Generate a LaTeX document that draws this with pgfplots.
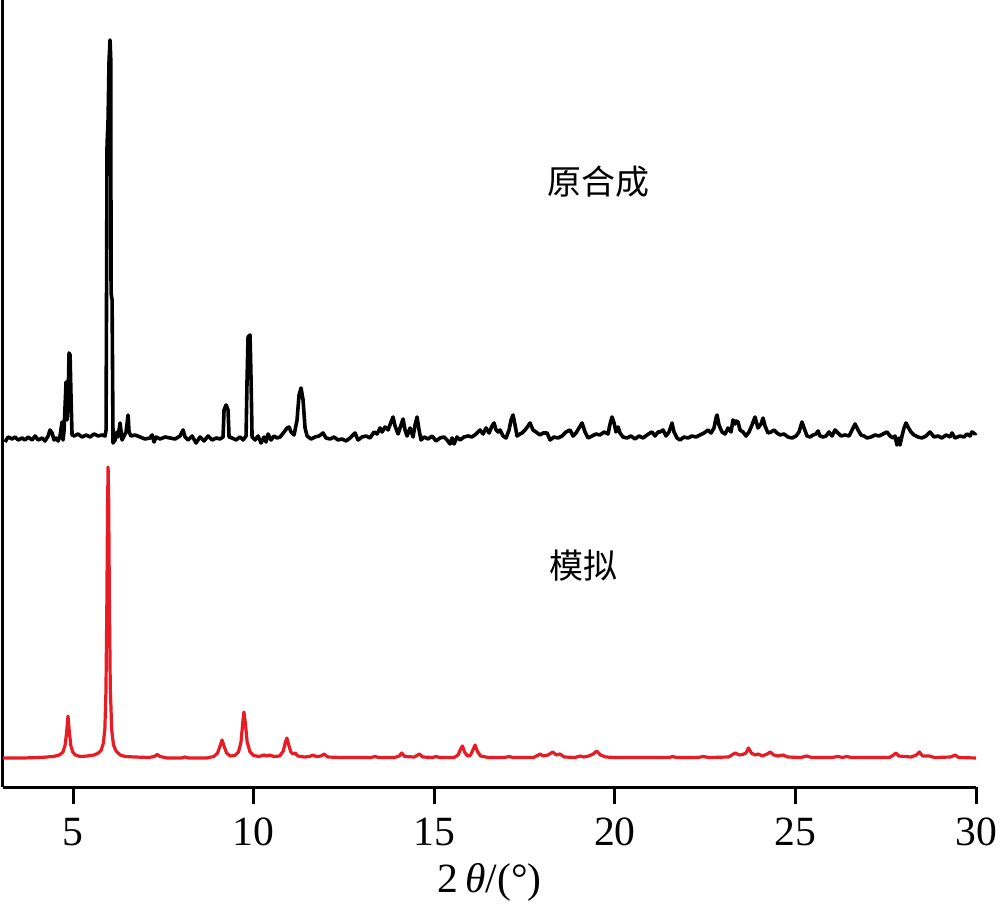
\documentclass[border=0pt]{standalone}
\usepackage{fontspec}
\setmainfont{Liberation Serif}
\newfontfamily\cjk{Noto Sans CJK SC}
\usepackage{pgfplots}
\pgfplotsset{compat=1.18}
\definecolor{myred}{RGB}{232,28,36}
\begin{document}
\begin{tikzpicture}
\begin{axis}[
 scale only axis, width=243.25pt, height=196.75pt,
 xmin=3.06, xmax=30, ymin=0, ymax=787,
 axis x line=bottom, axis y line=left,
 axis line style={-, line width=0.75pt, black},
 xtick={5,10,15,20,25,30}, ytick=\empty,
 tick align=outside, major tick length=4.25pt,
 every tick/.style={black, line width=0.75pt},
 tick label style={font=\fontsize{10.4}{12}\selectfont},
 /pgf/number format/assume math mode=true,
 xlabel={2\,\textit{θ}/(°)},
 xlabel style={font=\fontsize{10.4}{12}\selectfont, yshift=2.5pt},
 clip=false,
]
\coordinate (bl) at (rel axis cs:0,0);
\coordinate (tr) at (rel axis cs:1,1);
\addplot[black, line width=0.9pt, line join=round] coordinates {
(3.117,345)(3.200,350)(3.311,348)(3.394,350)(3.477,347)(3.588,349)(3.671,347)(3.754,350)(3.865,347)(3.948,351)
(4.031,347)(4.142,349)(4.225,346)(4.308,351)(4.363,357)(4.419,354)(4.474,347)(4.529,349)(4.585,346)(4.640,351)
(4.695,365)(4.723,347)(4.751,357)(4.806,405)(4.834,367)(4.862,387)(4.889,434)(4.917,432)(4.945,387)(4.972,352)
(5.028,351)(5.138,353)(5.249,350)(5.360,352)(5.471,350)(5.581,353)(5.692,351)(5.803,352)(5.886,351)(5.914,357)
(5.941,642)(5.969,667)(5.997,727)(6.024,747)(6.044,727)(6.052,494)(6.080,487)(6.107,344)(6.163,347)(6.218,355)
(6.246,350)(6.301,364)(6.357,347)(6.412,351)(6.467,355)(6.523,372)(6.550,355)(6.606,351)(6.716,352)(6.855,350)
(6.993,348)(7.132,349)(7.187,352)(7.242,345)(7.298,350)(7.409,348)(7.547,350)(7.685,349)(7.824,348)(7.962,351)
(8.045,357)(8.101,350)(8.184,347)(8.295,351)(8.405,344)(8.516,350)(8.627,346)(8.737,351)(8.848,347)(8.959,349)
(9.070,348)(9.153,350)(9.180,377)(9.236,382)(9.291,377)(9.319,350)(9.402,349)(9.513,347)(9.623,350)(9.706,347)
(9.790,351)(9.817,407)(9.845,450)(9.900,452)(9.928,407)(9.956,350)(10.039,347)(10.122,351)(10.205,344)(10.288,350)
(10.343,345)(10.399,353)(10.482,347)(10.565,351)(10.648,349)(10.731,350)(10.842,355)(10.925,359)(10.980,360)(11.035,355)
(11.118,352)(11.201,367)(11.257,392)(11.312,399)(11.368,387)(11.423,359)(11.478,351)(11.589,348)(11.700,350)(11.811,351)
(11.921,354)(12.004,349)(12.115,348)(12.226,350)(12.337,347)(12.447,348)(12.558,346)(12.669,349)(12.807,354)(12.890,347)
(13.001,350)(13.112,351)(13.222,349)(13.333,355)(13.416,353)(13.499,359)(13.555,355)(13.638,360)(13.721,357)(13.804,365)
(13.859,370)(13.915,361)(13.998,353)(14.053,359)(14.136,368)(14.191,357)(14.247,351)(14.330,359)(14.413,350)(14.468,362)
(14.524,370)(14.579,357)(14.634,347)(14.717,350)(14.828,348)(14.939,351)(15.050,346)(15.160,349)(15.271,350)(15.354,347)
(15.437,343)(15.493,349)(15.548,343)(15.631,350)(15.714,347)(15.825,350)(15.936,351)(16.046,350)(16.157,353)(16.268,357)
(16.351,353)(16.434,359)(16.517,354)(16.600,361)(16.655,364)(16.711,357)(16.766,355)(16.821,357)(16.905,351)(16.988,349)
(17.071,357)(17.126,367)(17.181,372)(17.237,362)(17.292,351)(17.375,353)(17.431,354)(17.514,357)(17.597,361)(17.652,364)
(17.735,357)(17.818,355)(17.929,352)(18.012,354)(18.123,354)(18.206,347)(18.316,350)(18.427,349)(18.538,351)(18.649,355)
(18.759,357)(18.843,351)(18.926,354)(19.009,359)(19.092,364)(19.175,355)(19.258,349)(19.369,351)(19.479,353)(19.590,352)
(19.701,355)(19.811,353)(19.867,363)(19.922,370)(19.978,364)(20.033,355)(20.088,360)(20.144,354)(20.227,350)(20.337,349)
(20.448,351)(20.559,348)(20.670,351)(20.780,349)(20.891,352)(20.974,354)(21.029,355)(21.113,351)(21.196,355)(21.251,355)
(21.334,357)(21.417,351)(21.500,355)(21.583,364)(21.638,355)(21.722,349)(21.805,347)(21.915,350)(22.026,349)(22.137,351)
(22.248,350)(22.358,352)(22.469,354)(22.580,357)(22.663,354)(22.746,359)(22.801,369)(22.829,372)(22.884,362)(22.967,355)
(23.051,353)(23.134,359)(23.217,355)(23.272,367)(23.327,363)(23.355,366)(23.411,365)(23.466,357)(23.549,355)(23.632,351)
(23.715,355)(23.798,362)(23.881,370)(23.964,359)(24.047,363)(24.103,369)(24.158,361)(24.241,354)(24.324,355)(24.407,357)
(24.490,354)(24.573,352)(24.684,353)(24.795,350)(24.906,349)(25.016,351)(25.099,355)(25.182,365)(25.238,359)(25.321,351)
(25.404,350)(25.487,352)(25.570,353)(25.625,356)(25.681,351)(25.764,350)(25.847,351)(25.930,355)(26.013,351)(26.096,357)
(26.179,354)(26.262,351)(26.373,352)(26.484,351)(26.567,357)(26.650,363)(26.733,357)(26.816,352)(26.899,351)(26.982,349)
(27.093,350)(27.204,352)(27.314,351)(27.425,353)(27.536,355)(27.619,351)(27.702,349)(27.757,351)(27.812,342)(27.868,349)
(27.895,342)(27.951,351)(28.006,359)(28.061,364)(28.117,360)(28.200,355)(28.283,352)(28.394,350)(28.504,349)(28.615,351)
(28.726,355)(28.837,350)(28.947,351)(29.058,349)(29.169,352)(29.280,350)(29.335,354)(29.418,349)(29.557,351)(29.667,350)
(29.750,353)(29.833,351)(29.889,355)(29.972,353)(30.000,354)
};
\addplot[myred, line width=0.8pt, line join=round] coordinates {
(3.06,29)(3.6,29)(4.1,29.5)(4.45,30.5)(4.62,32)(4.72,35)(4.78,42)(4.82,54)(4.86,71)(4.90,54)
(4.94,41)(4.99,35)(5.06,32)(5.2,30.5)(5.4,31)(5.58,32)(5.70,34)(5.78,37)(5.84,44)(5.88,58)
(5.91,95)(5.935,180)(5.955,280)(5.97,320)(5.985,290)(6.005,190)(6.03,100)(6.07,57)(6.12,42)(6.19,36)
(6.3,32)(6.45,30.5)(6.7,30)(7.1,29.5)(7.25,30.5)(7.33,32.5)(7.41,30.5)(7.6,29)(8.0,29)(8.1,30)
(8.2,29)(8.7,29)(8.9,30.5)(9.0,34)(9.07,41)(9.125,47)(9.18,41)(9.25,34)(9.35,31)(9.48,31.5)
(9.58,35)(9.65,45)(9.70,65)(9.73,75)(9.77,64)(9.82,45)(9.90,35)(10.0,31.5)(10.15,30.5)(10.29,32)
(10.36,31)(10.45,32)(10.55,30.5)(10.72,31)(10.82,36)(10.88,45)(10.92,49)(10.97,42)(11.03,35)(11.09,33)
(11.15,34)(11.22,31)(11.4,30)(11.55,30.5)(11.64,32)(11.73,30.5)(11.87,31)(11.95,33)(12.05,30)(12.4,29.5)
(12.9,29.5)(13.25,29.5)(13.36,30.5)(13.46,29.5)(13.9,29.5)(14.03,31)(14.10,34)(14.18,30.5)(14.45,30)(14.59,33)
(14.68,30)(14.95,29.5)(15.05,30.5)(15.15,29.5)(15.55,29.5)(15.66,32)(15.73,38)(15.78,41)(15.84,35)(15.92,31)
(16.0,31.5)(16.07,37)(16.13,42)(16.19,36)(16.28,31)(16.5,29.5)(16.95,29.5)(17.07,30.5)(17.18,29.5)(17.75,29.5)
(17.86,31.5)(17.93,33)(18.02,31)(18.15,32)(18.28,35)(18.38,32)(18.48,33)(18.6,30)(18.9,29.5)(19.04,31)
(19.14,30)(19.27,31)(19.40,33)(19.50,36)(19.60,32)(19.75,30)(20.0,29.5)(20.5,29.5)(21.0,29.5)(21.5,29.5)
(21.60,30.5)(21.7,29.5)(22.3,29.5)(22.45,30.5)(22.6,29.5)(23.15,30)(23.33,34)(23.45,32)(23.54,32.5)(23.63,34)
(23.70,39)(23.78,34)(23.88,32)(23.97,33)(24.08,31)(24.22,33)(24.30,35)(24.40,32)(24.52,31)(24.66,32)
(24.78,30)(25.15,29.5)(25.31,31)(25.45,29.5)(26.0,29.5)(26.19,30.5)(26.30,29.5)(26.42,30.5)(26.55,29.5)(27.6,29.5)
(27.72,32)(27.78,34)(27.86,31)(28.2,30)(28.35,32)(28.43,35)(28.52,31)(28.71,31)(28.85,29.5)(29.30,30)
(29.42,32)(29.52,29.5)(30.0,29)
};
\node[font={\cjk\fontsize{8.5}{10}\selectfont}] at (axis cs:19.56,605) {原合成};
\node[font={\cjk\fontsize{8.5}{10}\selectfont}] at (axis cs:19.12,221) {模拟};
\end{axis}
\pgfresetboundingbox
\path ([shift={(-0.75pt,-29.5pt)}]bl) rectangle ([shift={(6pt,0pt)}]tr);
\end{tikzpicture}
\end{document}
